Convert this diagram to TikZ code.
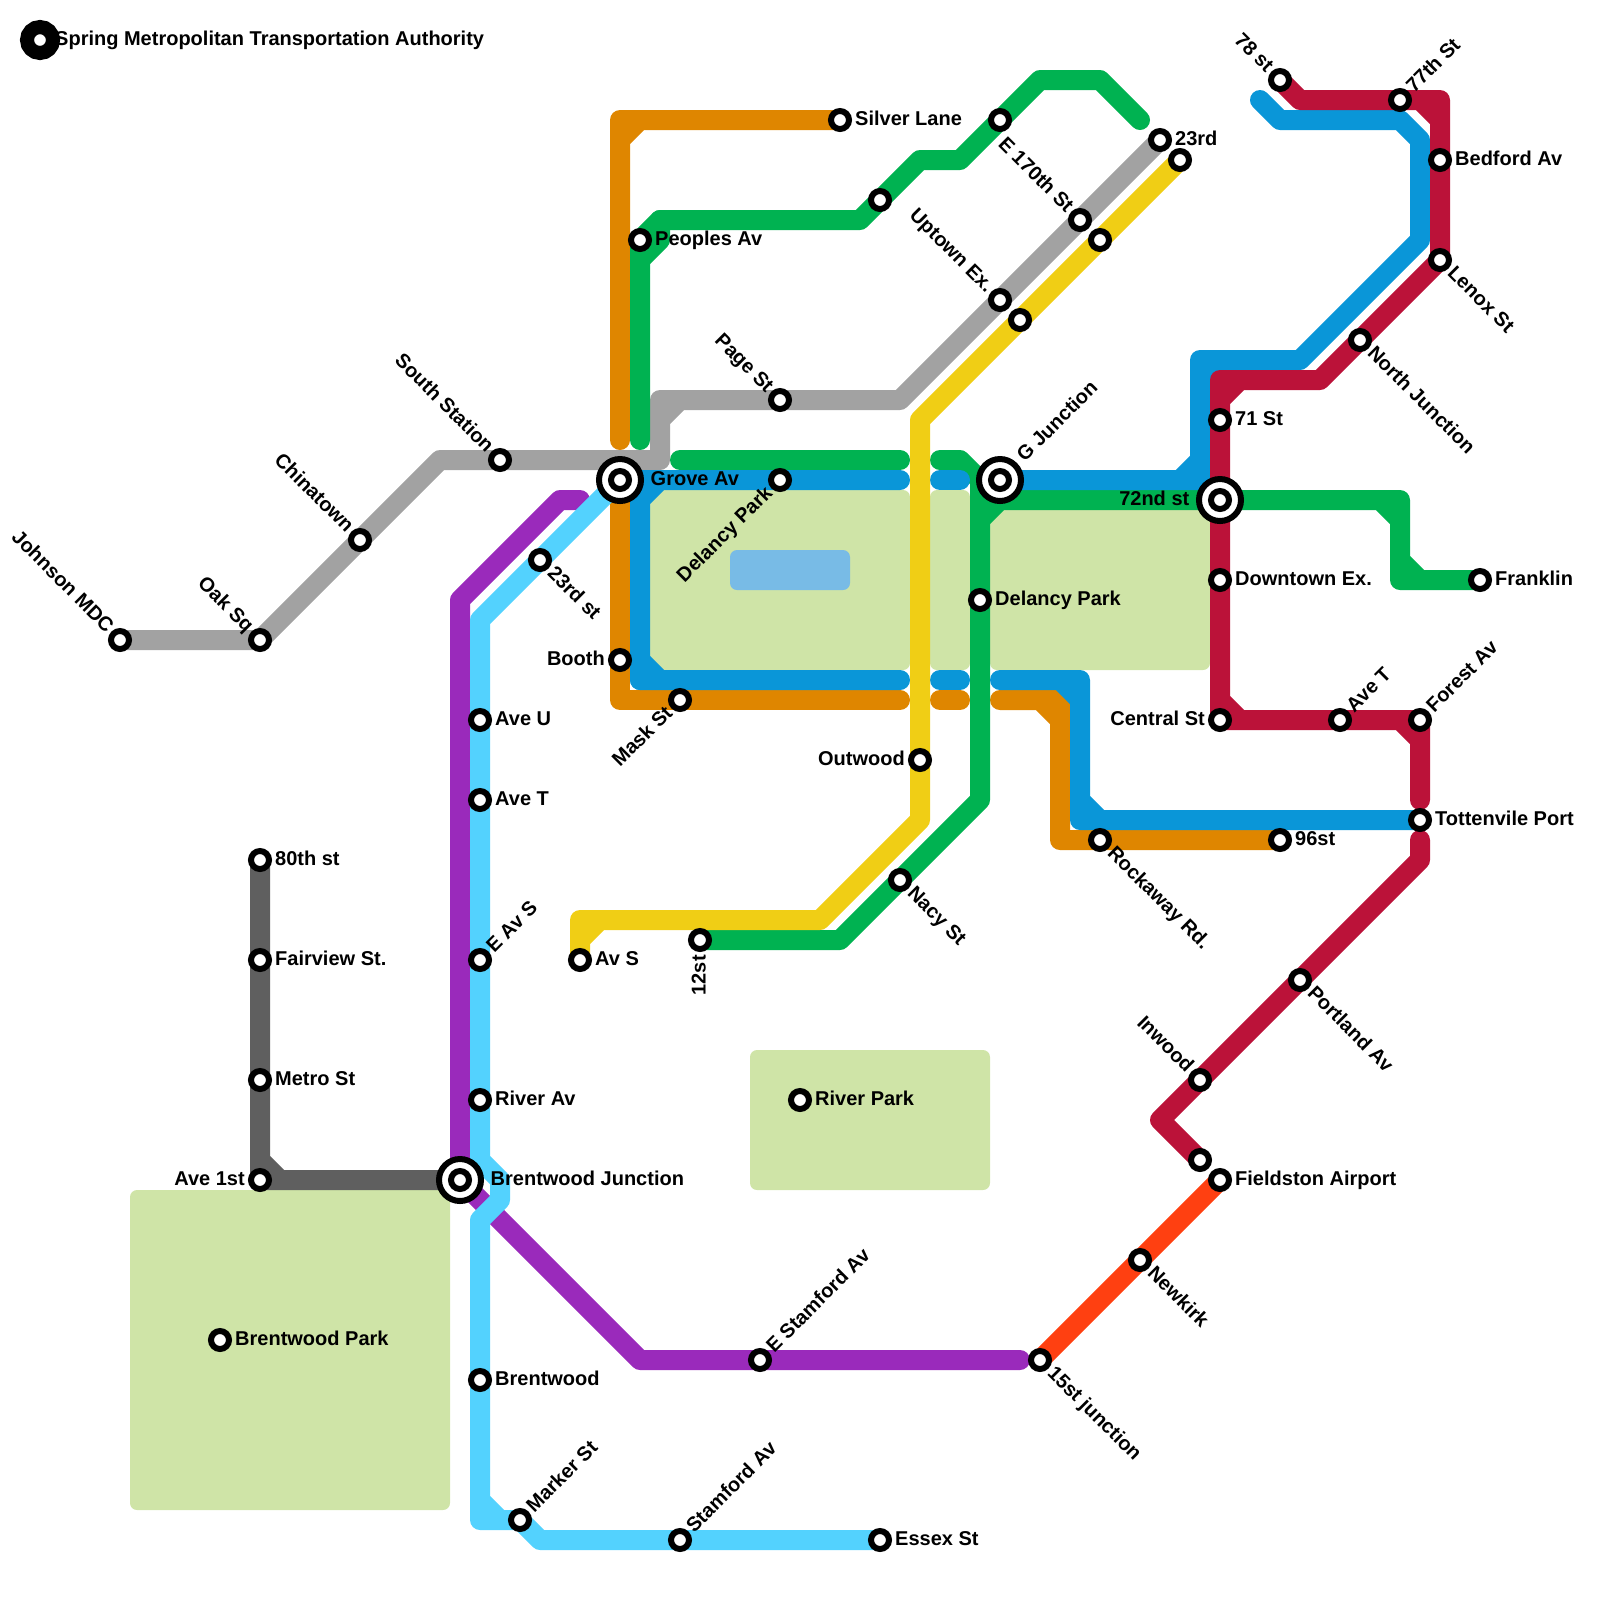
\documentclass[tikz,border=0pt]{standalone}
\usepackage{fontspec}
\setmainfont{Liberation Sans}
\usetikzlibrary{backgrounds}
\definecolor{lgray}{HTML}{A2A2A2}
\definecolor{lslate}{HTML}{5F5F5F}
\definecolor{lorange}{HTML}{DF8600}
\definecolor{lgreen}{HTML}{00B251}
\definecolor{lblue}{HTML}{0A96D8}
\definecolor{lyellow}{HTML}{F0CE15}
\definecolor{lred}{HTML}{BB1239}
\definecolor{lpurple}{HTML}{9A2ABB}
\definecolor{lsky}{HTML}{53D2FE}
\definecolor{lflame}{HTML}{FF4011}
\definecolor{parkgreen}{HTML}{CFE4A7}
\definecolor{pondblue}{HTML}{78BBE6}
\tikzset{
	route/.style={line width=2mm,line cap=round,line join=round},
	park/.style={fill=parkgreen,rounded corners=0.7mm},
	station/.style={circle,draw=black,fill=white,line width=0.6mm,minimum size=1.8mm,inner sep=0pt},
	hub/.style={circle,draw=black,fill=white,line width=0.6mm,minimum size=4.2mm,inner sep=0pt},
	logo/.style={circle,draw=black,fill=white,line width=1.4mm,minimum size=2.6mm,inner sep=0pt},
	lbl/.style={font=\bfseries\fontsize{5.69}{6.5}\selectfont,inner xsep=1.45mm,inner ysep=0pt,text height=1.4mm,text depth=0.3mm},
	rt/.style={lbl,anchor=west},
	lt/.style={lbl,anchor=east},
	ur/.style={lbl,anchor=west,rotate=45,inner xsep=1.4mm},
	dr/.style={lbl,anchor=west,rotate=-45,inner xsep=1.4mm},
	ul/.style={lbl,anchor=east,rotate=-45,inner xsep=1.4mm},
	dl/.style={lbl,anchor=east,rotate=45,inner xsep=1.4mm},
	dn/.style={lbl,anchor=east,rotate=90},
}
\begin{document}
\begin{tikzpicture}[x=0.2cm,y=-0.2cm]
	\useasboundingbox (0,0) rectangle (80,80);
	% stations with a label
	\foreach \id/\x/\y/\side/\txt in {
		johnson/6/32/ul/Johnson MDC,oaksq/13/32/ul/Oak Sq,chinatown/18/27/ul/Chinatown,
		southst/25/23/ul/South Station,pagest/39/20/ul/Page St,uptown/50/15/ul/Uptown Ex.,
		esvty/54/11/ul/E 170th St,twentythree/58/7/rt/23rd,silver/42/6/rt/Silver Lane,
		peoples/32/12/rt/Peoples Av,delpark/39/24/dl/Delancy Park,booth/31/33/lt/Booth,
		mask/34/35/dl/Mask St,delancy/49/30/rt/Delancy Park,outwood/46/38/lt/Outwood,
		nacy/45/44/dr/Nacy St,twelve/35/47/dn/12st,avs/29/48/rt/Av S,tw3rd/27/28/dr/23rd st,
		aveu/24/36/rt/Ave U,avet/24/40/rt/Ave T,eavs/24/48/ur/E Av S,river/24/55/rt/River Av,
		brentwood/24/69/rt/Brentwood,marker/26/76/ur/Marker St,stamford/34/77/ur/Stamford Av,
		essex/44/77/rt/Essex St,estamford/38/68/ur/E Stamford Av,fifteen/52/68/dr/15st junction,
		newkirk/57/63/dr/Newkirk,fieldston/61/59/rt/Fieldston Airport,inwood/60/54/ul/Inwood,
		portland/65/49/dr/Portland Av,tottenville/71/41/rt/Tottenvile Port,ninetysix/64/42/rt/96st,
		rockaway/55/42/dr/Rockaway Rd.,central/61/36/lt/Central St,avetb/67/36/ur/Ave T,
		forest/71/36/ur/Forest Av,downtown/61/29/rt/Downtown Ex.,franklin/74/29/rt/Franklin,
		seventyone/61/21/rt/71 St,north/68/17/dr/North Junction,lenox/72/13/dr/Lenox St,
		bedford/72/8/rt/Bedford Av,seventyseven/70/5/ur/77th St,seventyeight/64/4/ul/78 st,
		riverpark/40/55/rt/River Park,brentpark/11/67/rt/Brentwood Park,eighty/13/43/rt/80th st,
		fairview/13/48/rt/Fairview St.,metro/13/54/rt/Metro St,aveone/13/59/lt/Ave 1st}{%
		\node[station] (\id) at (\x,\y) {};
		\node[\side] (\id-t) at (\x,\y) {\txt};
		}
	% stations with no label
	\foreach \id/\x/\y in {ysouth/51/16,ynorth/55/12,yend/59/8,gmid/44/10,gtop/50/6,rlow/60/58}{%
		\node[station] (\id) at (\x,\y) {};
		}
	% interchanges
	\foreach \id/\x/\y/\side/\gap/\txt in {grove/31/24/rt/3mm/Grove Av,gjunction/50/24/ur/2.9mm/G Junction,
		seventytwo/61/25/lt/3mm/72nd st,brentjunction/23/59/rt/3mm/Brentwood Junction}{%
		\node[hub] (\id) at (\x,\y) {};
		\node[station] (\id-i) at (\x,\y) {};
		\node[\side,inner xsep=\gap] (\id-t) at (\x,\y) {\txt};
		}
	\node[logo] (brand) at (2,2) {};
	\node[rt] (brand-t) at (2,2) {Spring Metropolitan Transportation Authority};
	\begin{pgfonlayer}{background}
		% parks and the pond
		\fill[park] (32.5,24.5) rectangle (45.5,33.5);
		\fill[park] (46.5,24.5) rectangle (48.5,33.5);
		\fill[park] (49.5,24.5) rectangle (60.5,33.5);
		\fill[park] (6.5,59.5) rectangle (22.5,75.5);
		\fill[park] (37.5,52.5) rectangle (49.5,59.5);
		\fill[pondblue,rounded corners=0.7mm] (36.5,27.5) rectangle (42.5,29.5);
		% lines, the square bends get a small filled corner
		\draw[route,lgray] (johnson.center) -- (oaksq.center) -- (chinatown.center) -- (22,23) -- (southst.center) -- (33,23) -- (33,21) -- (33,20) -- (34,20) -- (33,21) -- (34,20) -- (pagest.center) -- (45,20) -- (uptown.center) -- (esvty.center) -- (twentythree.center);
		\draw[route,lslate] (eighty.center) -- (fairview.center) -- (metro.center) -- (13,58) -- (aveone.center) -- (14,59) -- (13,58) -- (14,59) -- (brentjunction.center);
		\draw[route,lorange] (31,22) -- (31,7) -- (31,6) -- (32,6) -- (31,7) -- (32,6) -- (silver.center);
		\draw[route,lorange] (grove.center) -- (booth.center) -- (31,35) -- (mask.center) -- (45,35);
		\draw[route,lorange] (47,35) -- (48,35);
		\draw[route,lorange] (50,35) -- (52,35) -- (53,35) -- (53,36) -- (52,35) -- (53,36) -- (53,42) -- (rockaway.center) -- (ninetysix.center);
		\draw[route,lgreen] (32,22) -- (32,13) -- (peoples.center) -- (33,11) -- (43,11) -- (gmid.center) -- (46,8) -- (48,8) -- (gtop.center) -- (52,4) -- (55,4) -- (57,6);
		\draw[route,lgreen] (32,13) -- (33,12) -- (33,11);
		\draw[route,lgreen] (34,23) -- (45,23);
		\draw[route,lgreen] (47,23) -- (48,23) -- (49,24) -- (delancy.center) -- (49,40) -- (nacy.center) -- (42,47) -- (twelve.center);
		\draw[route,lgreen] (49,26) -- (49,25) -- (50,25) -- (49,26) -- (50,25) -- (seventytwo.center) -- (69,25) -- (70,25) -- (70,26) -- (69,25) -- (70,26) -- (70,28) -- (70,29) -- (71,29) -- (70,28) -- (71,29) -- (franklin.center);
		\draw[route,lblue] (32,34) -- (32,25) -- (32,24) -- (33,24) -- (32,25) -- (33,24) -- (delpark.center) -- (45,24);
		\draw[route,lblue] (32,33) -- (32,34) -- (33,34) -- (32,33) -- (33,34) -- (45,34);
		\draw[route,lblue] (47,24) -- (48,24);
		\draw[route,lblue] (47,34) -- (48,34);
		\draw[route,lblue] (50,34) -- (53,34) -- (54,34) -- (54,35) -- (53,34) -- (54,35) -- (54,40) -- (54,41) -- (55,41) -- (54,40) -- (55,41) -- (tottenville.center);
		\draw[route,lblue] (gjunction.center) -- (59,24) -- (60,24) -- (60,23) -- (59,24) -- (60,23) -- (60,19) -- (60,18) -- (61,18) -- (60,19) -- (61,18) -- (65,18) -- (71,12) -- (71,7) -- (70,6) -- (64,6) -- (63,5);
		\draw[route,lyellow] (yend.center) -- (ynorth.center) -- (ysouth.center) -- (46,21) -- (outwood.center) -- (46,41) -- (41,46) -- (30,46) -- (29,46) -- (29,47) -- (30,46) -- (29,47) -- (avs.center);
		\draw[route,lred] (seventyeight.center) -- (65,5) -- (seventyseven.center) -- (71,5) -- (72,5) -- (72,6) -- (71,5) -- (72,6) -- (bedford.center) -- (lenox.center) -- (north.center) -- (66,19) -- (62,19) -- (61,19) -- (61,20) -- (62,19) -- (61,20) -- (seventyone.center) -- (seventytwo.center) -- (downtown.center) -- (61,35) -- (central.center) -- (62,36) -- (61,35) -- (62,36) -- (avetb.center) -- (70,36) -- (forest.center) -- (71,37) -- (70,36) -- (71,37) -- (71,40);
		\draw[route,lred] (71,42) -- (71,43) -- (portland.center) -- (inwood.center) -- (58,56) -- (rlow.center);
		\draw[route,lpurple] (29,25) -- (28,25) -- (23,30) -- (brentjunction.center) -- (32,68) -- (estamford.center) -- (51,68);
		\draw[route,lsky] (grove.center) -- (tw3rd.center) -- (24,31) -- (aveu.center) -- (avet.center) -- (eavs.center) -- (river.center) -- (24,58) -- (25,59) -- (25,60) -- (24,61) -- (brentwood.center) -- (24,75) -- (24,76) -- (25,76) -- (24,75) -- (25,76) -- (marker.center) -- (27,77) -- (stamford.center) -- (essex.center);
		\draw[route,lflame] (fifteen.center) -- (newkirk.center) -- (fieldston.center);
	\end{pgfonlayer}
\end{tikzpicture}
\end{document}
